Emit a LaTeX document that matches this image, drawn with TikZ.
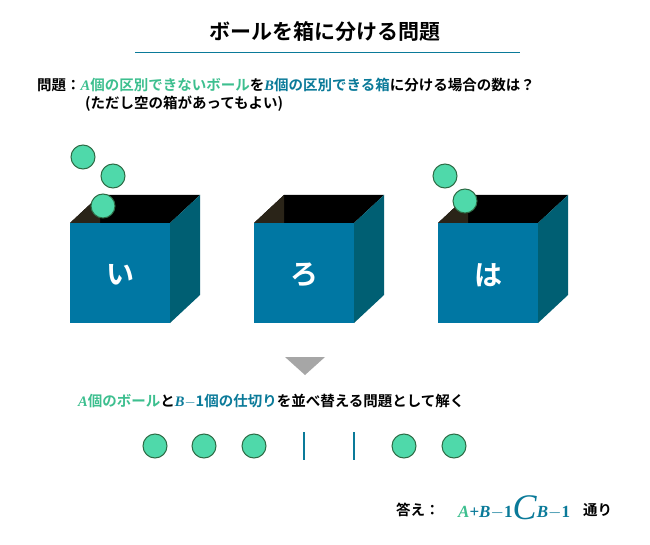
\documentclass[tikz,border=0pt]{standalone}
\usepackage{fontspec}
\setmainfont{Noto Sans CJK JP}[BoldFont={* Bold}]
\newfontfamily\serifm{Liberation Serif}
\newcommand{\vA}{{\serifm\bfseries\itshape A}}
\newcommand{\vB}{{\serifm\bfseries\itshape B}}
\begin{document}
\definecolor{ballg}{HTML}{4FD9AA}
\definecolor{balld}{HTML}{2E6B45}
\definecolor{front}{HTML}{0077A3}
\definecolor{side}{HTML}{005F73}
\definecolor{inner}{HTML}{2A2418}
\definecolor{ga}{HTML}{3DBF8F}
\definecolor{tb}{HTML}{0A7A99}
\begin{tikzpicture}[x=1pt,y=-1pt,
  ball/.style={circle,minimum size=24pt,inner sep=0,fill=ballg,draw=balld,line width=1pt},
  lbl/.style={font=\bfseries\fontsize{14.5}{17}\selectfont,anchor=west,inner sep=0},
  bar/.style={tb,line width=1.8pt}]
\useasboundingbox (0,0) rectangle (650,545);
\fill[white] (0,0) rectangle (650,545);
\node[font=\bfseries\fontsize{21}{24}\selectfont] (title) at (325,32) {ボールを箱に分ける問題};
\draw[tb,line width=0.8pt] (135,52) -- (520,52);
\node[lbl] (q1) at (37,85) {問題：\textcolor{ga}{\vA 個の区別できないボール}を\textcolor{tb}{\vB 個の区別できる箱}に分ける場合の数は？};
\node[lbl] (q2) at (85,104) {(ただし空の箱があってもよい)};
\foreach \x/\t/\n in {70/い/a,254/ろ/b,438/は/c}{
  \fill[black] (\x,223) -- (\x+30,195) -- (\x+130,195) -- (\x+100,223) -- cycle;
  \fill[inner] (\x,223) -- (\x+30,195) -- (\x+30,223) -- cycle;
  \fill[side] (\x+100,223) -- (\x+130,195) -- (\x+130,295) -- (\x+100,323) -- cycle;
  \fill[front] (\x,223) rectangle (\x+100,323);
  \node[white,font=\bfseries\fontsize{28}{32}\selectfont] (box\n) at (\x+50,275) {\t};
}
\node[ball] (b1) at (83,157) {};
\node[ball] (b2) at (113,176) {};
\node[ball] (b3) at (103,206) {};
\node[ball] (b4) at (445,176) {};
\node[ball] (b5) at (465,201) {};
\fill[gray!70] (285,357) -- (325,357) -- (305,375) -- cycle;
\node[lbl] (l2) at (78,401) {\textcolor{ga}{\vA 個のボール}と\textcolor{tb}{\vB$-$1個の仕切り}を並べ替える問題として解く};
\foreach \x/\n in {155/c1,204/c2,254/c3,404/c4,454/c5}{\node[ball] (\n) at (\x,446) {};}
\draw[bar] (304,432) -- (304,460);
\draw[bar] (354,432) -- (354,460);
\node[lbl] (ans) at (396,510) {答え：};
\node[anchor=west,inner sep=0] (f) at (458,508) {\serifm\bfseries\fontsize{17}{19}\selectfont\textcolor{ga}{\textit{A}}\textcolor{tb}{+\textit{B}$-$1\raisebox{-2pt}{\fontsize{36}{38}\selectfont\mdseries\textit{C}}\textit{B}$-$1}};
\node[lbl] (t) at (583,510) {通り};
\end{tikzpicture}
\end{document}
